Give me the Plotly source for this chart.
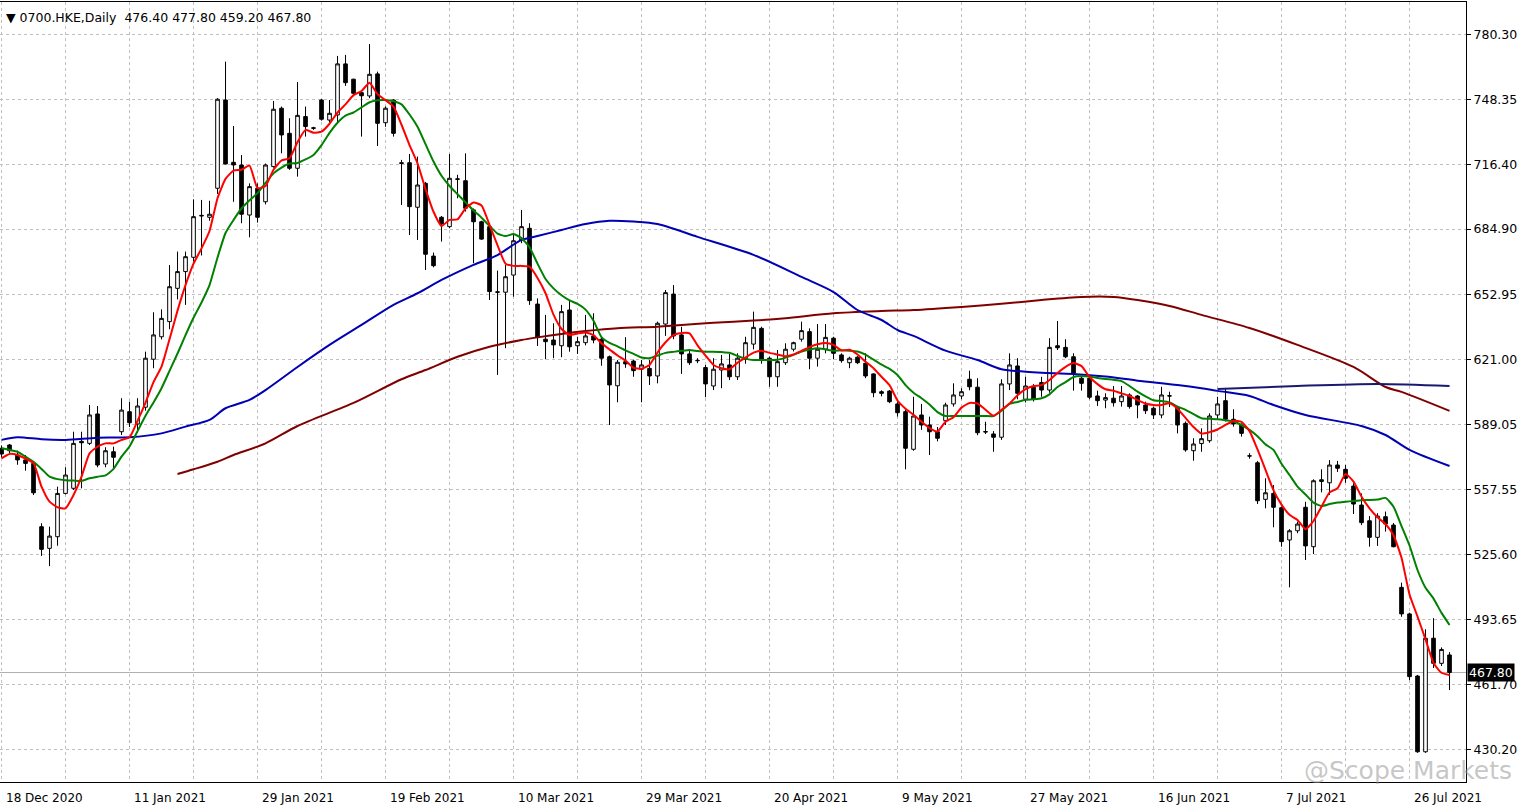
import plotly.graph_objects as go

# ---------------- data ----------------
opens = [577.6,579.2,574.3,571.9,570.2,539.2,528.6,534.3,555.5,558.0,
         581.0,580.0,594.4,569.9,575.9,585.7,595.5,589.5,597.7,621.2,
         632.2,639.6,655.9,664.1,671.1,691.3,690.7,704.9,748.1,717.6,
         716.3,691.8,704.9,698.3,715.5,744.1,731.8,714.7,740.0,734.5,
         748.1,738.3,740.8,765.8,758.3,751.7,750.1,760.9,737.0,748.1,
         717.4,717.4,695.6,707.3,671.7,690.7,686.1,709.5,708.6,694.3,
         688.5,686.1,654.2,654.0,662.4,679.6,685.3,648.2,631.0,630.6,
         627.8,645.3,627.8,629.3,632.6,631.0,622.4,608.2,620.0,620.3,
         616.3,616.7,613.0,638.4,653.1,633.1,623.8,620.6,617.1,608.1,
         615.9,618.4,612.6,621.2,628.6,636.3,621.7,612.6,619.5,626.1,
         631.0,634.7,621.7,626.1,631.5,623.3,619.5,622.2,619.2,614.0,
         605.3,605.6,599.3,595.5,577.1,593.9,589.0,585.7,591.1,599.3,
         603.2,611.4,607.5,585.8,584.6,583.0,609.1,617.9,601.6,607.5,
         609.8,606.1,627.8,627.0,622.4,611.9,611.9,603.2,601.2,602.1,
         600.4,603.7,603.2,598.8,597.2,593.9,603.3,597.2,589.8,576.4,
         579.9,581.3,593.9,600.9,591.8,589.0,573.9,570.5,552.6,555.5,
         548.5,532.7,537.2,548.7,529.4,561.3,560.7,569.4,567.3,559.1,
         549.8,542.1,534.0,544.1,540.0,509.5,496.5,466.1,429.0,484.6,
         472.3,476.4]
highs = [579.0,579.7,576.4,574.3,571.0,540.9,539.2,558.8,568.3,585.7,
         585.7,598.8,598.3,578.1,578.4,602.1,600.4,602.1,624.9,644.2,
         645.6,667.3,673.9,673.9,699.5,699.2,698.8,749.0,766.9,735.4,
         721.2,707.3,707.3,717.0,747.6,744.9,739.2,756.9,744.9,735.0,
         748.6,748.1,769.7,770.2,758.5,752.2,775.5,762.0,745.0,748.5,
         718.8,721.7,720.4,708.0,673.4,691.3,721.7,711.5,722.0,695.0,
         689.0,686.5,664.6,667.3,682.5,694.3,687.8,651.0,642.9,638.8,
         647.8,650.2,632.2,642.9,643.7,632.2,623.0,620.8,632.0,621.0,
         620.8,620.8,639.6,655.1,657.5,637.1,625.7,621.7,618.4,621.7,
         623.3,623.8,624.1,632.2,644.5,637.1,622.5,625.7,629.0,629.8,
         639.6,636.3,638.4,638.4,632.2,624.1,622.4,622.7,624.1,614.3,
         606.0,606.1,600.4,596.4,602.8,599.3,593.1,588.0,599.9,609.4,
         607.0,615.6,611.9,590.6,586.0,611.4,624.1,621.7,612.6,609.0,
         612.6,631.5,639.9,631.0,624.1,613.5,613.5,605.8,604.5,608.1,
         608.1,604.5,603.7,600.4,598.0,607.7,605.3,598.3,590.7,582.5,
         587.4,594.7,602.8,607.0,596.7,589.8,575.2,571.4,562.9,559.6,
         549.0,538.0,541.7,551.4,562.4,567.3,571.8,571.4,569.4,560.5,
         555.5,544.4,545.8,546.6,541.0,511.8,497.1,466.6,489.0,494.4,
         480.1,477.8]
lows = [573.0,574.3,569.5,566.6,554.7,524.9,519.9,529.9,555.0,557.2,
        558.0,579.2,568.3,568.3,567.8,584.1,588.0,585.1,596.0,616.8,
        630.9,635.9,650.5,647.8,669.0,672.0,689.0,702.1,716.5,698.3,
        687.8,680.9,688.1,697.0,715.0,722.0,713.9,710.6,730.2,733.5,
        738.0,737.0,736.7,755.0,750.0,730.2,749.0,725.6,735.0,730.2,
        696.7,682.0,679.6,664.9,666.2,678.8,685.3,700.0,693.5,668.2,
        679.6,650.2,613.5,626.6,651.8,678.0,647.8,627.7,621.2,621.7,
        622.2,624.9,623.8,628.0,629.0,618.0,589.0,600.1,617.0,612.6,
        600.1,608.6,609.4,632.6,631.0,614.0,618.4,619.3,602.6,606.1,
        607.0,611.0,611.0,619.0,626.0,619.0,607.7,607.7,618.4,625.0,
        629.8,616.3,617.6,624.1,621.2,619.5,616.8,618.8,611.9,602.6,
        603.0,599.7,593.1,567.3,576.4,586.6,574.3,581.0,589.0,598.0,
        601.6,606.0,584.0,584.6,575.9,581.7,606.1,601.6,600.0,600.5,
        602.8,604.8,625.7,621.7,605.8,605.8,601.6,598.3,597.2,598.0,
        598.0,597.0,592.3,594.4,591.9,592.3,597.8,584.9,575.9,571.5,
        575.9,580.3,592.0,590.7,588.2,583.3,572.5,550.3,548.2,538.9,
        529.4,509.5,536.0,522.9,525.8,556.0,554.7,566.0,560.7,545.4,
        540.0,529.4,529.8,536.8,529.1,495.1,464.1,428.5,428.5,470.0,
        471.0,459.2]
closes = [574.8,576.4,571.9,570.2,555.8,528.1,534.6,555.5,564.5,580.0,
          580.3,593.9,569.4,576.4,573.2,596.3,590.1,598.3,621.7,633.1,
          641.2,656.7,664.1,671.4,691.0,691.6,692.2,748.5,716.8,716.3,
          692.2,705.7,690.7,716.3,743.6,731.0,714.7,740.6,735.1,734.3,
          738.7,741.6,765.8,756.6,751.4,750.2,760.7,736.7,744.1,731.8,
          717.1,695.9,706.5,672.6,667.0,687.4,709.8,709.3,695.1,688.5,
          680.0,654.3,654.0,661.6,679.2,686.1,649.9,631.9,629.8,628.2,
          644.5,627.3,629.8,632.6,630.6,621.7,608.6,619.7,618.9,615.6,
          618.4,613.0,638.8,653.8,632.6,623.8,619.5,620.5,609.1,616.3,
          618.9,612.6,621.7,629.3,636.8,621.2,612.6,620.0,626.1,629.3,
          635.2,621.7,626.1,631.9,624.1,620.5,621.7,619.5,613.0,604.8,
          604.5,600.4,595.0,577.6,593.4,589.0,585.7,582.5,598.8,603.7,
          605.3,607.7,585.2,585.6,583.0,609.1,618.4,604.5,608.1,601.6,
          606.1,627.0,626.8,622.4,614.3,609.4,602.6,600.9,602.4,599.9,
          603.2,598.0,598.8,596.0,593.9,603.7,603.2,589.0,576.8,579.7,
          582.3,593.4,599.3,591.8,589.5,584.9,573.8,551.9,555.8,548.7,
          531.9,537.2,540.5,529.8,561.7,562.2,569.4,567.8,562.9,550.3,
          541.2,534.0,544.4,540.5,529.4,496.5,465.8,429.0,484.6,472.3,
          479.1,467.8]

ma_red = [572.7,574.8,574.3,572.5,570.3,558.8,551.5,548.7,548.2,554.7,
          563.7,575.1,578.4,580.0,580.0,581.7,583.0,591.0,600.0,610.0,
          617.6,631.0,645.0,657.5,668.0,675.5,684.0,700.0,709.5,713.5,
          714.0,716.0,705.0,706.0,714.0,718.5,719.6,727.5,733.5,732.1,
          732.6,736.5,742.0,746.0,750.5,752.5,756.6,751.0,748.0,744.9,
          736.0,726.0,717.1,704.5,693.4,686.4,689.4,689.7,695.0,697.9,
          696.5,687.0,677.0,668.0,666.9,666.9,666.5,661.0,653.5,643.0,
          636.0,633.1,633.8,634.3,633.0,629.0,626.0,623.0,620.5,617.0,
          616.5,618.4,624.5,629.5,633.0,634.0,633.9,628.0,623.0,618.4,
          616.8,616.3,619.5,622.0,624.4,625.4,624.3,623.5,622.7,623.5,
          625.3,627.1,628.5,629.2,628.2,625.5,625.8,623.5,620.0,616.8,
          612.6,608.5,601.0,597.0,594.0,590.6,587.5,585.8,590.6,592.8,
          597.5,599.8,599.5,596.5,593.5,596.4,599.5,603.5,606.5,608.1,
          608.5,611.0,614.5,617.5,619.3,617.8,612.5,609.0,606.5,605.8,
          604.5,603.2,601.2,599.5,598.8,598.8,599.6,597.0,592.5,588.0,
          584.8,585.5,586.8,589.0,591.0,590.5,586.0,577.0,567.0,557.0,
          550.0,545.0,542.5,538.0,542.0,549.0,556.0,558.0,565.0,561.3,
          553.9,548.2,543.8,540.5,535.0,524.0,506.0,495.2,484.0,472.5,
          467.7,466.6]
ma_green = [577.6,576.8,575.9,573.5,571.0,567.5,563.7,562.5,562.0,561.8,
            561.6,562.9,563.7,564.3,567.5,573.5,578.5,586.0,593.5,600.0,
            607.0,615.5,624.0,633.0,641.5,649.0,657.5,671.0,683.0,689.4,
            695.0,699.0,702.5,707.5,712.2,715.0,717.0,717.3,719.0,721.2,
            726.0,732.0,737.0,740.5,742.0,744.5,747.0,748.0,748.1,747.5,
            746.0,741.0,735.0,726.5,718.0,711.0,706.0,702.0,698.0,694.0,
            690.5,686.5,682.7,681.5,682.5,680.5,676.0,668.0,660.5,655.9,
            652.5,650.0,648.3,645.5,640.0,632.0,629.2,627.5,625.5,623.8,
            622.0,621.7,623.0,624.3,624.8,625.3,625.7,625.2,624.9,624.9,
            624.7,624.4,622.8,621.5,620.8,620.8,620.8,620.9,622.0,623.3,
            625.0,626.0,626.6,626.0,625.4,625.6,625.4,625.0,623.5,621.0,
            618.5,616.5,613.5,608.5,604.8,602.1,599.0,595.3,593.4,593.4,
            593.4,593.4,593.4,593.4,593.4,596.0,599.3,600.3,601.3,601.6,
            602.1,604.0,607.6,610.0,612.5,613.0,612.7,612.0,611.5,611.1,
            610.5,608.1,605.3,603.0,601.1,600.7,600.0,598.0,596.4,594.3,
            592.3,592.0,591.8,591.3,590.7,589.0,586.6,583.5,579.5,576.8,
            570.0,564.5,558.8,555.0,551.0,549.3,550.3,551.0,551.4,551.8,
            552.2,552.3,552.5,553.3,549.0,539.5,530.0,518.0,509.3,504.0,
            497.0,491.1]

ma_blue_bars = [0,2,5,8,12,16,20,23,26,28,31,33,37,41,45,49,52,55,59,62,65,67,70,73,76,79,82,
                87,94,100,104,107,110,112,114,118,122,125,128,130,134,138,142,147,150,152,156,
                159,163,170,173,176,181]
ma_blue_vals = [581.7,583.0,582.0,581.7,582.8,583.0,584.9,588.2,591.5,597.2,601.3,606.1,617.4,
                628.2,638.0,647.8,653.5,660.0,667.4,672.2,679.6,681.5,684.5,687.4,689.0,688.6,
                687.4,681.1,672.3,661.5,654.1,645.3,640.4,635.5,632.6,625.4,620.8,616.3,615.1,
                614.6,614.0,612.7,610.7,608.6,607.0,605.7,603.2,598.8,593.9,588.5,584.1,576.8,568.9]

ma_brown_bars = [22,24,27,29,33,37,44,50,53,57,61,65,67,70,73,77,82,85,89,94,98,104,110,114,
                 120,125,130,135,139,142,146,150,156,162,169,173,175,181]
ma_brown_vals = [565.0,567.3,571.0,574.3,580.0,588.5,599.8,611.4,615.9,622.4,627.3,630.6,631.9,
                 633.6,635.0,636.4,637.1,638.0,639.1,640.1,641.3,643.7,644.8,645.3,646.8,648.3,
                 650.2,651.7,651.7,650.2,647.3,642.9,636.5,628.2,617.4,607.6,605.2,595.9]

ma_navy_bars = [152,162,172,181]
ma_navy_vals = [606.6,608.1,609.1,608.1]

date_label_bars = [0,16,32,48,64,80,96,112,128,144,160,176]
date_labels = ["18 Dec 2020","11 Jan 2021","29 Jan 2021","19 Feb 2021","10 Mar 2021",
               "29 Mar 2021","20 Apr 2021","9 May 2021","27 May 2021","16 Jun 2021",
               "7 Jul 2021","26 Jul 2021"]
price_ticks = [780.30,748.35,716.40,684.90,652.95,621.00,589.05,557.55,525.60,493.65,461.70,430.20]

symbol = "0700.HKE,Daily"
watermark = "@Scope Markets"

# ---------------- figure ----------------
bars = list(range(len(closes)))
FONT = "DejaVu Sans"
GRID = "#C0C0C0"

fig = go.Figure()
fig.add_trace(go.Candlestick(
    x=bars, open=opens, high=highs, low=lows, close=closes,
    increasing=dict(line=dict(color="black", width=1), fillcolor="white"),
    decreasing=dict(line=dict(color="black", width=1), fillcolor="black"),
    whiskerwidth=0, showlegend=False, hoverinfo="skip"))

fig.add_trace(go.Scatter(x=ma_brown_bars, y=ma_brown_vals, mode="lines",
                         line=dict(color="#800000", width=2, shape="spline", smoothing=0.8),
                         showlegend=False, hoverinfo="skip"))
fig.add_trace(go.Scatter(x=ma_blue_bars, y=ma_blue_vals, mode="lines",
                         line=dict(color="#0000B4", width=2, shape="spline", smoothing=0.8),
                         showlegend=False, hoverinfo="skip"))
fig.add_trace(go.Scatter(x=ma_navy_bars, y=ma_navy_vals, mode="lines",
                         line=dict(color="#191970", width=2, shape="spline", smoothing=0.8),
                         showlegend=False, hoverinfo="skip"))
fig.add_trace(go.Scatter(x=bars, y=ma_green, mode="lines",
                         line=dict(color="#008000", width=2, shape="spline", smoothing=0.5),
                         showlegend=False, hoverinfo="skip"))
fig.add_trace(go.Scatter(x=bars, y=ma_red, mode="lines",
                         line=dict(color="#FF0000", width=2, shape="spline", smoothing=0.5),
                         showlegend=False, hoverinfo="skip"))

last = closes[-1]
fig.add_shape(type="line", xref="paper", x0=0, x1=1, yref="y", y0=last, y1=last,
              line=dict(color="#B0B0B0", width=1), layer="below")

annotations = []
for b, t in zip(date_label_bars, date_labels):
    annotations.append(dict(x=b, y=0, xref="x", yref="paper", text=t, showarrow=False,
                            xanchor="left", yanchor="top", xshift=2, yshift=-7,
                            font=dict(family=FONT, size=12, color="black")))
header = "▼ %s  %.2f %.2f %.2f %.2f" % (symbol, opens[-1], highs[-1], lows[-1], closes[-1])
annotations.append(dict(x=0, y=1, xref="paper", yref="paper", text=header, showarrow=False,
                        xanchor="left", yanchor="top", xshift=4, yshift=-6,
                        font=dict(family=FONT, size=12.5, color="black")))
annotations.append(dict(x=1, y=last, xref="paper", yref="y", text="%.2f" % last, showarrow=False,
                        xanchor="left", yanchor="middle", xshift=1, bgcolor="black",
                        font=dict(family=FONT, size=12.5, color="white"), borderpad=1))
annotations.append(dict(x=1, y=0, xref="paper", yref="paper", text=watermark,
                        showarrow=False, xanchor="right", yanchor="bottom", xshift=48, yshift=-5,
                        font=dict(family=FONT, size=25, color="rgba(150,150,150,0.55)")))

fig.update_layout(
    width=1532, height=809,
    margin=dict(l=0, r=66, t=2, b=27),
    paper_bgcolor="white", plot_bgcolor="white",
    showlegend=False,
    boxgap=0.35,
    annotations=annotations,
    xaxis=dict(range=[-0.19, 183.06], tickmode="linear", tick0=0, dtick=8,
               showticklabels=False, showgrid=True, gridcolor=GRID, griddash="3px,3px",
               gridwidth=1, showline=True, mirror=True, linecolor="black", linewidth=1,
               zeroline=False, rangeslider=dict(visible=False), ticks=""),
    yaxis=dict(range=[414.2, 796.1], side="right", tickmode="array", tickvals=price_ticks,
               ticktext=["%.2f" % v for v in price_ticks],
               tickfont=dict(family=FONT, size=12.5, color="black"),
               ticks="outside", ticklen=4, tickcolor="black",
               showgrid=True, gridcolor=GRID, griddash="3px,3px", gridwidth=1,
               showline=True, mirror=True, linecolor="black", linewidth=1, zeroline=False),
)

fig.write_html("out.html")
